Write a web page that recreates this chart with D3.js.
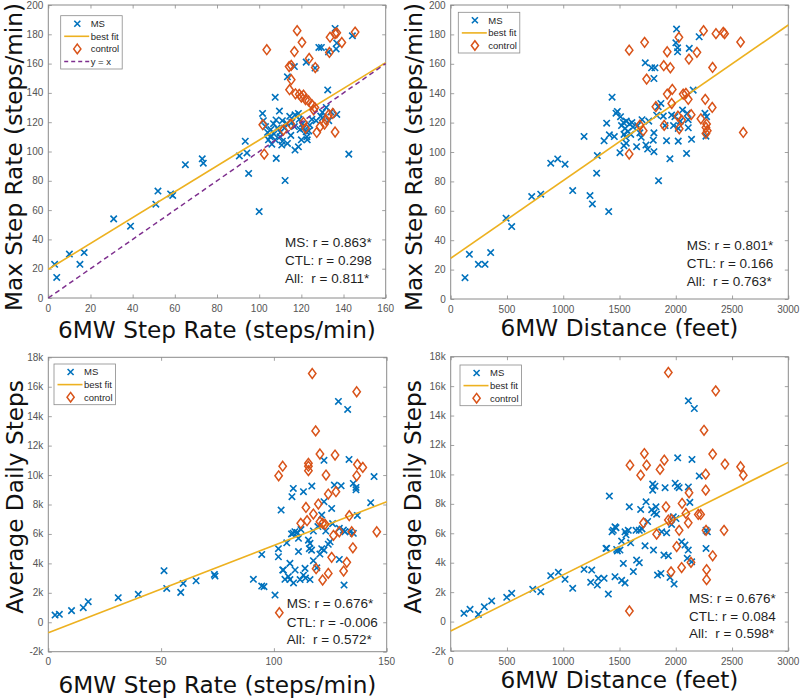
<!DOCTYPE html>
<html><head><meta charset="utf-8">
<script src="https://cdn.jsdelivr.net/npm/d3@7/dist/d3.min.js"></script>
<style>body{margin:0;background:#fff}svg{display:block}text{white-space:pre}</style>
</head><body><svg id="c" width="800" height="698"></svg>
<script>
// ---------- DATA ----------
const rateTicks = [0,20,40,60,80,100,120,140,160];
const rateTicks150 = [0,50,100,150];
const distTicks = [0,500,1000,1500,2000,2500,3000];
const maxRateTicks = [0,20,40,60,80,100,120,140,160,180,200];
const stepsTicks = [-2,0,2,4,6,8,10,12,14,16,18]; // thousands
const stepsTickLabels = ["-2k","0","2k","4k","6k","8k","10k","12k","14k","16k","18k"];

const legendNames = ["MS","best fit","control","y = x"];

// Top-left: 6MW step rate vs max step rate
const tlMS = [[3,23],[4,14],[10,30],[15,23],[17,31],[31,54],[39,49],[51,64],[52,73],[58,71],[59,70],[65,91],[73,95],[73.5,92],[90.6,97],[93.4,107],[94.2,99],[95,85],[100,59],
[128.3,171],[129.5,171],[136,184],[144.2,179],[136.8,174],[136.5,170],[132.9,168],[122.3,161],[116.7,158],[126.5,157],[113.4,151],[132.5,142],[107.6,137],
[101.6,126],[102,121],[104,113],[105.2,110],[106.8,119],[108,121.5],[109.6,127.6],[104.4,108],[107.6,108],[109.9,110],[110.7,104.4],[113.4,105.5],[108.1,95.3],[112.3,80.2],[117,125],[118.6,126],[116.7,117],[119.4,115],[117,101],[118.6,103.2],[122.3,113.5],[122.6,110],[122.8,108],[129.2,124.2],[130,126.7],[131.8,130.1],[136.8,125.3],[142.5,98.2],[113.1,119.2],[112,116],[105.5,115],[107,112],[108.5,116],[110,113],[111,121],[114.5,124],[115.5,120],[119,122],[120.5,119],[121,116],[123.5,114],[124,118],[125,122],[127,121],[130,123],[133,121],[134,127],[106,105],[111,107],[115,111],[103,117],[120,108]];
const tlCTL = [[103.6,169.5],[118,182.5],[120.3,174.5],[116.7,168.2],[114.2,158],[115.2,158.8],[115.2,149],[123.7,163.5],[126.6,157.3],[133.6,178],[136,180.5],[136.8,181],[139.2,174.4],[133.3,167.6],[145.5,181.5],[114.4,142.2],[117.2,139.4],[119,139],[120,137.2],[121,138.5],[122,135.4],[123.4,134.5],[125,132],[126.4,130],[125.8,128.5],[101.7,118.3],[102.4,98.2],[111.5,114.6],[115,118.7],[121,119.8],[122,115.8],[127.3,113],[128.9,117],[131,118.7],[131.8,121.5],[132.9,125],[134.9,126],[136,113.3]];
const tlFit = [[0,19.6],[160,160.7]];
const tlIdentity = [[0,0],[160,160]];
const tlStats = ["MS: r = 0.863*","CTL: r = 0.298","All:  r = 0.811*"];

// Top-right: 6MW distance vs max step rate
const trMS = [[127,14.5],[166,30.4],[246,23.6],[305,23.6],[355,31.6],[492,55],[542,49.3],[720,69.7],[800,71.3],[889,92.4],[951,95.3],[1016,91.7],[1084,73.8],[1185,110.6],[1238,70.4],[1259,64.7],[1303,97.6],[1297,85.6],[1363,107.6],[1386,119.6],[1410,111.7],[1404,59.5],[1434,137.3],[1454,110.5],[1469,126.4],[1481,127.6],
[2007,183.6],[2001,174.3],[2016,170.9],[2016,168.2],[2120,170.5],[2208,178.4],[1729,160.7],[1785,157.3],[1815,157.3],[1806,150],[1509,124],[1518,118],[1535,120],[1550,116],[1560,121],[1575,114],[1590,119],[1610,120],[1620,117],[1540,112],[1555,110],[1504,99.5],[1539,104.3],[1652,103.6],[1693,110],[1681,113],[1735,104.7],[1750,102],[1806,113],[1800,108],[1806,100.2],[1844,130.8],[1868,133],[1889,124.4],[1918,107.7],[1948,95.4],[1847,80.5],[1963,125.1],[1992,124],[1980,118],[2022,116],[2022,107.4],[2060,128.5],[2102,126.3],[2110,122],[2096,99],[2140,108.6],[2155,142.1],[2259,126.3],[2274,124],[2268,110.8],[2111,116.5],[1700,122],[1760,121],[1830,125],[1905,118],[2040,121],[1660,118],[1560,106],[1600,112]];
const trCTL = [[1586,169.3],[1723,174.6],[1924,168.2],[2028,178],[2117,163.2],[2188,167.8],[2247,182.5],[2357,180.5],[2422,181.4],[2434,180.5],[2576,174.8],[1893,158.7],[1952,157.3],[2327,157.5],[1741,149.6],[1924,139.4],[1969,142.6],[2066,139.4],[2090,139.9],[2111,135.8],[2262,135.8],[2324,130.3],[1823,130.8],[1964,133],[1681,118.3],[1711,114.5],[1897,118.1],[2019,124.4],[2031,115.8],[2052,121.7],[2137,125.4],[2223,122.6],[2274,119],[2268,116.7],[2280,114.5],[2268,112.6],[2600,113.3],[1586,98.6]];
const trFit = [[0,27.7],[3000,186.4]];
const trStats = ["MS: r = 0.801*","CTL: r = 0.166","All:  r = 0.763*"];

// Bottom-left: 6MW step rate vs average daily steps (thousands)
const blMS = [[3,0.49],[4.9,0.54],[10.3,0.79],[15.5,0.99],[17.7,1.4],[31,1.67],[39.9,1.9],[51.3,3.5],[52.5,2.3],[58.7,2.03],[59.8,2.64],[65.5,2.82],[73.6,3.25],[73.9,3.14],[90.9,2.92],[94.6,4.61],[94.6,2.46],[95.6,2.42],[100.5,1.85],
[128.6,15],[132.7,14.46],[122.2,11],[133.3,11.06],[108.6,9.09],[108,8.53],[113.1,8.87],[116.8,9.25],[126.8,9.32],[129.8,9.27],[135.2,9.43],[136.4,9.16],[136.4,9.0],[144.4,9.9],[142.9,8.12],[137,7.26],[103.2,7.62],[122.2,8.19],[125.6,7.73],[108.5,6.05],[109.3,6.15],[107.8,6.0],[110.3,6.1],[117.5,6.2],[121.2,7.28],[129,6.38],[130.8,6.26],[131.5,6.15],[133.8,6.15],[135.2,6.04],[105.7,5.4],[102,5.0],[102,4.45],[110.9,5.7],[115.3,5.58],[116,5.36],[115.7,5.0],[116.7,4.9],[121.2,5.0],[122.2,4.9],[120.4,4.63],[124.9,5.47],[124.1,5.3],[117.5,4.18],[110.9,4.8],[107.1,4.0],[129,4.27],[104.2,3.55],[106.4,3.1],[107.1,2.9],[109.4,3.55],[113.1,3.2],[113.8,3.66],[111.6,2.9],[108.7,2.67],[116,2.9],[131.1,2.53],[119.5,6.5],[123,6.2],[112,6.3],[126,6.7],[104.9,2.92],[103.9,3.55],[119,3.7],[114,3.0]];
const blCTL = [[117,16.9],[136.7,15.66],[118.5,13.0],[120.4,11.43],[127.1,11.36],[115.3,10.8],[115.3,10.6],[115.3,10.3],[103.9,10.6],[102.1,9.95],[123.1,10.0],[137,10.72],[139.4,10.52],[136.7,9.95],[124.1,8.71],[127.5,8.87],[114.2,7.8],[119.7,8.03],[117.5,7.35],[114.7,6.9],[111.9,6.72],[120.4,6.83],[121.6,6.72],[122.7,6.65],[133.4,7.24],[129,6.15],[126.4,5.9],[134.5,6.15],[145.6,6.15],[135,5.06],[125.6,4.41],[132.3,4.07],[118.7,3.64],[130.9,3.48],[124.1,3.32],[121.6,2.87],[102.4,0.65]];
const blFit = [[0,-0.71],[150,8.19]];
const blStats = ["MS: r = 0.676*","CTL: r = -0.006","All:  r = 0.572*"];

// Bottom-right: 6MW distance vs average daily steps (thousands)
const brMS = [[118,0.56],[172,0.83],[246,0.49],[299,1.0],[364,1.4],[498,1.65],[542,1.92],[729,2.19],[800,2.03],[889,3.12],[957,3.35],[1016,2.87],[1084,2.26],[1185,3.55],[1253,3.5],[1244,2.67],[1303,2.48],[1312,2.94],[1363,2.94],[1386,4.98],[1401,1.87],[1410,8.53],[1434,6.1],[1460,3.05],[1469,6.38],[1481,4.8],
[2112,15.0],[2165,14.48],[2017,11.13],[2144,11.02],[2209,9.9],[1795,9.34],[1815,9.2],[1795,8.93],[1905,9.1],[1995,9.4],[2015,9.2],[2030,9.1],[2112,9.15],[1587,7.8],[1688,7.62],[1736,8.14],[1807,7.4],[1786,7.6],[1824,7.8],[1647,6.2],[1676,6.2],[1549,6.1],[1558,5.9],[1578,6.2],[1445,6.2],[1460,6.44],[1519,5.47],[1504,4.86],[1475,4.9],[1599,5.35],[1380,4.97],[1727,5.15],[1802,4.86],[1875,6.1],[1919,6.03],[1963,6.6],[1978,7.12],[2002,7.0],[2052,5.42],[2082,5.2],[2111,4.86],[2102,4.3],[2141,4.06],[2269,6.2],[2281,6.1],[2269,4.97],[1895,4.52],[1934,4.47],[1868,3.27],[1838,3.16],[1652,4.18],[1676,4.0],[1623,3.4],[1534,3.95],[1519,2.8],[1549,2.63],[1985,2.55],[1949,3.0],[1700,6.3],[1750,6.8],[1830,7.3],[2125,8.1]];
const brCTL = [[1934,16.93],[2355,15.68],[2251,13.0],[1721,11.42],[2328,11.38],[1593,10.63],[1741,10.63],[1898,10.97],[1860,10.34],[1688,9.95],[2437,10.7],[2576,10.52],[2600,9.95],[2266,10.02],[2266,8.93],[2118,8.75],[2056,8.03],[1913,7.8],[2090,7.35],[2200,7.28],[2221,7.28],[1934,6.9],[1963,6.94],[1713,6.71],[2030,6.2],[2111,6.71],[1830,5.94],[2429,6.2],[2269,6.2],[2008,5.1],[2328,4.47],[2135,4.02],[2052,3.67],[1958,3.38],[2274,3.53],[2274,2.85],[1588,0.72]];
const brFit = [[0,-0.64],[3000,10.82]];
const brStats = ["MS: r = 0.676*","CTL: r = 0.084","All:  r = 0.598*"];

const xLabels = ["6MW Step Rate (steps/min)","6MW Distance (feet)"];
const yLabels = ["Max Step Rate (steps/min)","Average Daily Steps"];

// ---------- STYLE ----------
const C_MS = "#0072BD", C_CTL = "#D95319", C_FIT = "#EDB120", C_ID = "#7E2F8E";
const AX = "#8a8a8a", TICKTXT = "#555", TXT = "#1f1f1f";
const BIGFONT = "'DejaVu Sans', Verdana, sans-serif";
const SMALLFONT = "'Liberation Sans', Arial, Helvetica, sans-serif";

const svg = d3.select("#c");

// compute big label font size from target width
const probe = svg.append("text").attr("font-family",BIGFONT).attr("font-size",24).text(xLabels[0]);
const bigSize = 24 * 318 / probe.node().getComputedTextLength();
probe.remove();

const panels = [
  {left:48.3, top:5, w:337.4, h:293, xd:[0,160], yd:[0,200], xt:rateTicks, yt:maxRateTicks, ytl:null,
   ms:tlMS, ctl:tlCTL, fit:tlFit, id:tlIdentity, stats:tlStats, xl:xLabels[0], yl:yLabels[0],
   xlY:338, ylX:22, ylC:157, leg:[60.7,15.7], statsX:285, statsY:[247.3,265,282.7]},
  {left:450.7, top:5, w:337.6, h:294, xd:[0,3000], yd:[0,200], xt:distTicks, yt:maxRateTicks, ytl:null,
   ms:trMS, ctl:trCTL, fit:trFit, id:null, stats:trStats, xl:xLabels[1], yl:yLabels[0],
   xlY:336, ylX:422, ylC:157, leg:[458.3,12.3], statsX:686.7, statsY:[250,268,285.7]},
  {left:48.3, top:357.3, w:338.4, h:294.4, xd:[0,150], yd:[-2,18], xt:rateTicks150, yt:stepsTicks, ytl:stepsTickLabels,
   ms:blMS, ctl:blCTL, fit:blFit, id:null, stats:blStats, xl:xLabels[0], yl:yLabels[1],
   xlY:693, ylX:22.5, ylC:497, leg:[54,364], statsX:286.7, statsY:[608.3,626.7,644]},
  {left:450.7, top:356.7, w:337.6, h:294.3, xd:[0,3000], yd:[-2,18], xt:distTicks, yt:stepsTicks, ytl:stepsTickLabels,
   ms:brMS, ctl:brCTL, fit:brFit, id:null, stats:brStats, xl:xLabels[1], yl:yLabels[1],
   xlY:688, ylX:421, ylC:497, leg:[460,365], statsX:689, statsY:[603.3,621,638.3]}
];

function xMark(g, x, y, s){
  g.append("path").attr("d",`M${x-s},${y-s}L${x+s},${y+s}M${x-s},${y+s}L${x+s},${y-s}`)
   .attr("stroke",C_MS).attr("stroke-width",1.6).attr("fill","none");
}
function diamond(g, x, y, hw, hh){
  g.append("path").attr("d",`M${x},${y-hh}L${x+hw},${y}L${x},${y+hh}L${x-hw},${y}Z`)
   .attr("stroke",C_CTL).attr("stroke-width",1.5).attr("fill","none");
}

panels.forEach(p => {
  const x = d3.scaleLinear().domain(p.xd).range([p.left, p.left+p.w]);
  const y = d3.scaleLinear().domain(p.yd).range([p.top+p.h, p.top]);
  const g = svg.append("g");

  // tick marks (inside, all four sides) via d3 axes
  const tl = 3.5;
  const axB = d3.axisTop(x).tickValues(p.xt).tickSize(tl).tickFormat("");
  const axT = d3.axisBottom(x).tickValues(p.xt).tickSize(tl).tickFormat("");
  const axL = d3.axisRight(y).tickValues(p.yt).tickSize(tl).tickFormat("");
  const axR = d3.axisLeft(y).tickValues(p.yt).tickSize(tl).tickFormat("");
  [[axB,`translate(0,${p.top+p.h})`],[axT,`translate(0,${p.top})`],[axL,`translate(${p.left},0)`],[axR,`translate(${p.left+p.w},0)`]].forEach(([a,t])=>{
    const ag = g.append("g").attr("transform",t).call(a);
    ag.select(".domain").remove();
    ag.selectAll("line").attr("stroke",AX).attr("stroke-width",0.8);
  });

  // tick labels
  p.xt.forEach(v => {
    g.append("text").attr("x",x(v)).attr("y",p.top+p.h+13.5).attr("text-anchor","middle")
     .attr("font-family",SMALLFONT).attr("font-size",10).attr("fill",TICKTXT).text(v);
  });
  p.yt.forEach((v,i) => {
    g.append("text").attr("x",p.left-5).attr("y",y(v)+3.5).attr("text-anchor","end")
     .attr("font-family",SMALLFONT).attr("font-size",10).attr("fill",TICKTXT).text(p.ytl ? p.ytl[i] : v);
  });

  // box
  g.append("rect").attr("x",p.left).attr("y",p.top).attr("width",p.w).attr("height",p.h)
   .attr("fill","none").attr("stroke",AX).attr("stroke-width",1);

  // data
  const dg = g.append("g");
  p.ms.forEach(d => xMark(dg, x(d[0]), y(d[1]), 3.2));
  const line = d3.line().x(d=>x(d[0])).y(d=>y(d[1]));
  dg.append("path").attr("d",line(p.fit)).attr("stroke",C_FIT).attr("stroke-width",1.6).attr("fill","none");
  p.ctl.forEach(d => diamond(dg, x(d[0]), y(d[1]), 3.7, 4.9));
  if (p.id) dg.append("path").attr("d",line(p.id)).attr("stroke",C_ID).attr("stroke-width",1.5)
      .attr("stroke-dasharray","5,3.5").attr("fill","none");

  // legend
  const n = p.id ? 4 : 3;
  const lx = p.leg[0], ly = p.leg[1];
  g.append("rect").attr("x",lx).attr("y",ly).attr("width",61.5).attr("height",8+(n-1)*12.6+7.5)
   .attr("fill","#fff").attr("stroke",AX).attr("stroke-width",0.8);
  for (let i=0;i<n;i++){
    const ry = ly + 8 + i*12.6;
    if (i===0) xMark(g, lx+16.6, ry, 3);
    if (i===1) g.append("line").attr("x1",lx+3.5).attr("x2",lx+28.5).attr("y1",ry).attr("y2",ry).attr("stroke",C_FIT).attr("stroke-width",1.6);
    if (i===2) diamond(g, lx+16.6, ry, 3.6, 4.8);
    if (i===3) g.append("line").attr("x1",lx+3.5).attr("x2",lx+28.5).attr("y1",ry).attr("y2",ry).attr("stroke",C_ID).attr("stroke-width",1.5).attr("stroke-dasharray","4,3");
    g.append("text").attr("x",lx+30).attr("y",ry+3.3).attr("font-family",SMALLFONT).attr("font-size",9.5)
     .attr("fill",TXT).text(legendNames[i]);
  }

  // stats
  p.stats.forEach((s,i) => {
    g.append("text").attr("x",p.statsX).attr("y",p.statsY[i]).attr("font-family",SMALLFONT)
     .attr("font-size",13.5).attr("fill",TXT).text(s);
  });

  // axis labels
  g.append("text").attr("x",p.left+p.w/2).attr("y",p.xlY).attr("text-anchor","middle")
   .attr("font-family",BIGFONT).attr("font-size",bigSize).attr("fill","#111").text(p.xl);
  g.append("text").attr("transform",`translate(${p.ylX},${p.ylC}) rotate(-90)`).attr("text-anchor","middle")
   .attr("font-family",BIGFONT).attr("font-size",bigSize).attr("fill","#111").text(p.yl);
});
</script></body></html>
